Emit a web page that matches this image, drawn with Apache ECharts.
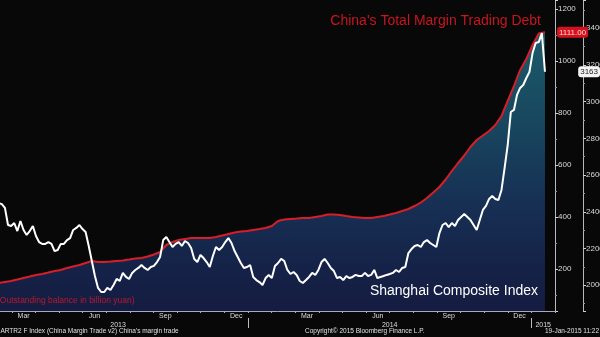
<!DOCTYPE html>
<html>
<head>
<meta charset="utf-8">
<script src="https://cdn.jsdelivr.net/npm/echarts@6/dist/echarts.min.js"></script>
<style>
  html, body { margin: 0; padding: 0; background: #080808; }
  #chart { width: 600px; height: 337px; }
</style>
</head>
<body>
<div id="chart"></div>
<script>
// Shanghai Composite Index, sampled every 4 days (last point: 19 Jan 2015 intraday)
const shStart = '2013-02-14';
const shStepDays = 4;
const shValues = [
  2448, 2442, 2421, 2328, 2323, 2339, 2295, 2350, 2301, 2274,
  2295, 2323, 2268, 2235, 2225, 2225, 2235, 2225, 2186, 2192,
  2225, 2225, 2246, 2257, 2301, 2312, 2328, 2306, 2290, 2214,
  2132, 2050, 1985, 1963, 1963, 1985, 1974, 2001, 2034, 2023,
  2067, 2045, 2034, 2067, 2083, 2094, 2110, 2094, 2083, 2099,
  2105, 2126, 2154, 2246, 2263, 2235, 2208, 2225, 2235, 2214,
  2241, 2230, 2203, 2143, 2126, 2165, 2148, 2126, 2099, 2159,
  2208, 2192, 2208, 2235, 2257, 2230, 2186, 2154, 2121, 2094,
  2099, 2110, 2045, 2028, 2017, 2001, 2039, 2056, 2039, 2105,
  2121, 2143, 2132, 2083, 2061, 2072, 2056, 2023, 2012, 2028,
  2045, 2067, 2056, 2083, 2126, 2143, 2121, 2094, 2077, 2039,
  2045, 2028, 2050, 2039, 2045, 2056, 2050, 2050, 2067, 2050,
  2056, 2083, 2039, 2045, 2050, 2056, 2061, 2067, 2083, 2072,
  2094, 2099, 2175, 2197, 2214, 2219, 2208, 2235, 2246, 2230,
  2219, 2208, 2284, 2328, 2339, 2317, 2339, 2323, 2355, 2372,
  2388, 2372, 2355, 2328, 2301, 2355, 2410, 2432, 2470, 2486,
  2470, 2464, 2519, 2639, 2764, 2944, 2955, 3037, 3075, 3091,
  3129, 3162, 3265, 3320, 3325, 3374, 3163
];

// Margin trading debt outstanding (billion yuan), sampled every 8 days
const debtStart = '2013-02-14';
const debtStepDays = 8;
const debtValues = [
  146.2, 150.0, 153.8, 159.6, 165.4, 171.1, 176.9, 180.8, 186.5, 192.3,
  196.2, 203.8, 209.6, 215.4, 223.1, 230.8, 226.9, 226.9, 228.8, 230.8,
  232.7, 236.5, 240.4, 242.3, 248.1, 255.8, 265.4, 292.3, 303.8, 311.5,
  315.4, 319.2, 319.2, 319.2, 319.2, 323.1, 328.8, 334.6, 340.4, 344.2,
  346.2, 350.0, 353.8, 357.7, 365.4, 384.6, 390.4, 392.3, 394.2, 396.2,
  396.2, 400.0, 403.8, 409.6, 409.6, 407.7, 403.8, 400.0, 398.1, 396.2,
  396.2, 400.0, 403.8, 409.6, 415.4, 423.1, 430.8, 442.3, 455.8, 473.1,
  494.2, 515.4, 544.2, 576.9, 607.7, 636.5, 669.2, 696.2, 713.5, 730.8,
  753.8, 788.5, 846.2, 903.8, 965.4, 1007.7, 1061.5, 1105.8, 1111.0
];

const monthNames = ['Jan','Feb','Mar','Apr','May','Jun','Jul','Aug','Sep','Oct','Nov','Dec'];
const shownMonths = ['Mar','Jun','Sep','Dec'];
const yearNames = ['2013','2014','2015'];

// x axis is measured in months since 1 Jan 2013
const DAY = 86400000;
const MONTH_DAYS = 30.4375;
const ORIGIN = Date.UTC(2013, 0, 1);
const X_MIN = 1, X_MAX = 25, VIEW_START = 1.5;
const toMonths = t => (t - ORIGIN) / DAY / MONTH_DAYS;

function buildSeries(start, stepDays, values) {
  const t0 = Date.parse(start);
  return values.map((v, i) => [toMonths(t0 + i * stepDays * DAY), v]);
}
const shData = buildSeries(shStart, shStepDays, shValues);
const debtData = buildSeries(debtStart, debtStepDays, debtValues);
const lastSh = shValues[shValues.length - 1];
const lastDebt = debtValues[debtValues.length - 1];

// year label positions: centre of each year's visible span, snapped to half months
const yearLabels = {};
yearNames.forEach((y, i) => {
  const a = Math.max(12 * i, VIEW_START), b = Math.min(12 * i + 12, X_MAX);
  yearLabels[(Math.floor((a + b)) / 2).toFixed(1)] = y;
});

const FONT = '"Liberation Sans", Arial, sans-serif';
const axisGrey = '#a8a8c0';
const PLOT_RIGHT = 45;
const plotWidth = 600 - PLOT_RIGHT;
const monthPx = plotWidth / (X_MAX - VIEW_START);

const chart = echarts.init(document.getElementById('chart'), null, { renderer: 'canvas' });

const option = {
  animation: false,
  backgroundColor: '#080808',
  grid: {
    left: -(VIEW_START - X_MIN) * monthPx, right: PLOT_RIGHT, top: 0, bottom: 26,
    containLabel: false, outerBoundsMode: 'none'
  },
  xAxis: [
    {
      type: 'value', min: X_MIN, max: X_MAX, interval: 1,
      axisLine: { show: true, lineStyle: { color: axisGrey, width: 1 } },
      axisTick: { show: true, length: 2, lineStyle: { color: axisGrey } },
      axisLabel: { show: false },
      splitLine: { show: false }
    },
    {
      type: 'value', min: X_MIN, max: X_MAX, interval: 0.5, position: 'bottom',
      axisLine: { show: false }, axisTick: { show: false }, splitLine: { show: false },
      axisLabel: {
        show: true, margin: 2, color: '#dcdcdc', fontSize: 7, fontFamily: FONT,
        showMinLabel: true, showMaxLabel: true,
        formatter: v => {
          const j = Math.floor(v);
          if (Math.abs(v - j - 0.5) > 1e-6) return '';
          const name = monthNames[((j % 12) + 12) % 12];
          return shownMonths.includes(name) ? name : '';
        }
      }
    },
    {
      type: 'value', min: X_MIN, max: X_MAX, interval: 0.5, position: 'bottom', offset: 9,
      axisLine: { show: false }, axisTick: { show: false }, splitLine: { show: false },
      axisLabel: {
        show: true, margin: 2, color: '#dcdcdc', fontSize: 7, fontFamily: FONT,
        formatter: v => yearLabels[v.toFixed(1)] || ''
      }
    }
  ],
  yAxis: [
    {
      type: 'value', position: 'right', min: 38.5, max: 1234.6,
      minInterval: 200, maxInterval: 200,
      axisLine: { show: true, lineStyle: { color: '#b8b8b8' } },
      axisTick: { show: true, length: 3, lineStyle: { color: '#d0d0d0' } },
      minorTick: { show: true, splitNumber: 2, length: 2, lineStyle: { color: '#999' } },
      axisLabel: { color: '#d8d8d8', fontSize: 8, fontFamily: FONT, margin: 3,
                   showMinLabel: false, showMaxLabel: false, formatter: v => String(v) },
      splitLine: { show: false },
      axisPointer: {
        show: true, type: 'line', value: lastDebt, status: 'show', triggerTooltip: false,
        lineStyle: { opacity: 0 },
        label: { show: true, formatter: p => Number(p.value).toFixed(2),
                 backgroundColor: '#d4121e', color: '#ffd6d6', fontSize: 8, fontFamily: FONT,
                 padding: [2, 2, 1, 2], margin: 2 }
      }
    },
    {
      type: 'value', position: 'right', offset: 28, min: 1859.4, max: 3554.2,
      minInterval: 200, maxInterval: 200,
      axisLine: { show: true, lineStyle: { color: '#b8b8b8' } },
      axisTick: { show: true, length: 3, lineStyle: { color: '#d0d0d0' } },
      minorTick: { show: true, splitNumber: 2, length: 2, lineStyle: { color: '#999' } },
      axisLabel: { color: '#d8d8d8', fontSize: 8, fontFamily: FONT, margin: 3,
                   showMinLabel: false, showMaxLabel: false, formatter: v => String(v) },
      splitLine: { show: false },
      axisPointer: {
        show: true, type: 'line', value: lastSh, status: 'show', triggerTooltip: false,
        lineStyle: { opacity: 0 },
        label: { show: true, formatter: p => String(Math.round(p.value)),
                 backgroundColor: '#f4f4f4', color: '#222', fontSize: 8, fontFamily: FONT,
                 padding: [2, 2, 1, 2], margin: 2 }
      }
    }
  ],
  axisPointer: { triggerOn: 'none' },
  series: [
    {
      name: 'Margin Trading Debt', type: 'line', xAxisIndex: 0, yAxisIndex: 0,
      data: debtData, showSymbol: false, symbol: 'none', z: 2,
      lineStyle: { color: '#d81e28', width: 2 },
      areaStyle: {
        origin: 'start',
        color: new echarts.graphic.LinearGradient(0, 0, 0, 1, [
          { offset: 0, color: '#237f93' },
          { offset: 0.3, color: '#1f6485' },
          { offset: 0.6, color: '#1d4275' },
          { offset: 0.85, color: '#1b2d63' },
          { offset: 1, color: '#1a2459' }
        ])
      }
    },
    {
      name: 'Shanghai Composite Index', type: 'line', xAxisIndex: 0, yAxisIndex: 1,
      data: shData, showSymbol: false, symbol: 'none', z: 3,
      lineStyle: { color: '#ffffff', width: 2 }
    }
  ],
  graphic: [
    { type: 'text', right: 59, top: 14, z: 10,
      style: { text: "China's Total Margin Trading Debt", fill: '#c8161f', font: '14px ' + FONT } },
    { type: 'text', right: 62, top: 284, z: 10,
      style: { text: 'Shanghai Composite Index', fill: '#ffffff', font: '14px ' + FONT } },
    { type: 'text', left: -3, top: 296, z: 10,
      style: { text: '(Outstanding balance in billion yuan)', fill: '#b81a30', font: '8.5px ' + FONT } },
    { type: 'text', left: -5, top: 328, z: 10,
      style: { text: "MARTR2 F Index (China Margin Trade v2) China's margin trade", fill: '#e0e0e0', font: '6.5px ' + FONT } },
    { type: 'text', left: 305, top: 328, z: 10,
      style: { text: 'Copyright\u00a9 2015 Bloomberg Finance L.P.', fill: '#e0e0e0', font: '6.5px ' + FONT } },
    { type: 'text', left: 545, top: 328, z: 10,
      style: { text: '19-Jan-2015 11:22', fill: '#e0e0e0', font: '6.5px ' + FONT } }
  ]
};

chart.setOption(option);

// year separators on the date axis, placed through the axis scale
const sepGraphics = [12, 24].map(m => {
  const x = Math.round(chart.convertToPixel({ xAxisIndex: 0 }, m)) + 0.5;
  return { type: 'line', z: 10, shape: { x1: x, y1: 318, x2: x, y2: 328 },
           style: { stroke: '#bdbdbd', lineWidth: 1 } };
});
chart.setOption({ graphic: option.graphic.concat(sepGraphics) });
</script>
</body>
</html>
